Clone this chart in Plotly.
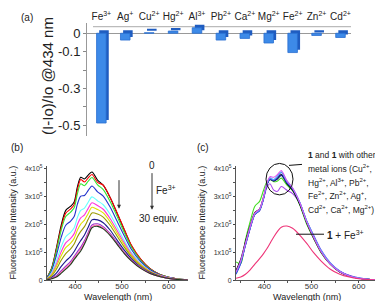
import plotly.graph_objects as go

W, H = 383, 301
FONT = "Liberation Sans, Arial, sans-serif"

def px(x):
    return x / W

def py(y):
    return 1 - y / H

# ---------------- Panel (a) data ----------------
ions = ["Fe<sup>3+</sup>", "Ag<sup>+</sup>", "Cu<sup>2+</sup>", "Hg<sup>2+</sup>", "Al<sup>3+</sup>",
        "Pb<sup>2+</sup>", "Ca<sup>2+</sup>", "Mg<sup>2+</sup>", "Fe<sup>2+</sup>", "Zn<sup>2+</sup>",
        "Cd<sup>2+</sup>"]
ratio = [-0.488, -0.037, 0.003, 0.012, 0.03, -0.037, -0.028, -0.053, -0.105, -0.012, -0.023]

# ---------------- Panels (b), (c) data (x1e5) ----------------
wl = [340, 350, 360, 370, 380, 390, 398, 405, 412, 420, 428, 436, 448, 460, 475, 490, 505, 520,
      540, 560, 580, 600, 620, 640]

titr_0 = [0.10, 0.45, 1.15, 1.95, 2.50, 2.64, 2.80, 3.35, 3.68, 3.62, 3.76, 3.87, 3.58, 3.40, 2.95, 2.38, 1.80, 1.25, 0.75, 0.42, 0.22, 0.11, 0.05, 0.02]
titr_1 = [0.10, 0.43, 1.10, 1.87, 2.40, 2.54, 2.71, 3.24, 3.60, 3.51, 3.66, 3.78, 3.50, 3.40, 2.95, 2.40, 1.82, 1.26, 0.76, 0.42, 0.22, 0.11, 0.05, 0.02]
titr_2 = [0.09, 0.41, 1.04, 1.77, 2.28, 2.43, 2.59, 3.10, 3.45, 3.38, 3.54, 3.67, 3.41, 3.24, 2.81, 2.27, 1.71, 1.19, 0.72, 0.40, 0.21, 0.11, 0.05, 0.02]
titr_3 = [0.08, 0.35, 0.89, 1.52, 1.97, 2.11, 2.28, 2.73, 3.01, 3.03, 3.21, 3.37, 3.16, 3.01, 2.61, 2.10, 1.59, 1.11, 0.67, 0.38, 0.20, 0.10, 0.05, 0.02]
titr_4 = [0.06, 0.28, 0.69, 1.19, 1.56, 1.71, 1.88, 2.25, 2.50, 2.58, 2.79, 2.98, 2.84, 2.70, 2.35, 1.89, 1.42, 1.00, 0.61, 0.34, 0.18, 0.09, 0.04, 0.02]
titr_5 = [0.06, 0.23, 0.58, 1.01, 1.34, 1.49, 1.67, 2.00, 2.23, 2.34, 2.57, 2.77, 2.67, 2.54, 2.20, 1.77, 1.34, 0.95, 0.57, 0.33, 0.18, 0.09, 0.04, 0.02]
titr_6 = [0.05, 0.20, 0.50, 0.87, 1.17, 1.32, 1.50, 1.80, 2.01, 2.15, 2.39, 2.61, 2.53, 2.41, 2.09, 1.68, 1.27, 0.90, 0.55, 0.31, 0.17, 0.08, 0.04, 0.02]
titr_7 = [0.04, 0.16, 0.40, 0.71, 0.96, 1.12, 1.30, 1.56, 1.75, 1.92, 2.18, 2.41, 2.37, 2.26, 1.96, 1.57, 1.19, 0.85, 0.52, 0.30, 0.16, 0.08, 0.04, 0.01]
titr_8 = [0.03, 0.11, 0.26, 0.49, 0.69, 0.85, 1.03, 1.24, 1.42, 1.62, 1.90, 2.16, 2.16, 2.06, 1.79, 1.43, 1.08, 0.78, 0.47, 0.27, 0.15, 0.07, 0.03, 0.01]
titr_9 = [0.02, 0.08, 0.17, 0.34, 0.51, 0.67, 0.86, 1.03, 1.19, 1.42, 1.71, 1.98, 2.02, 1.92, 1.67, 1.34, 1.00, 0.73, 0.45, 0.26, 0.14, 0.07, 0.03, 0.01]
titr_10 = [0.02, 0.07, 0.14, 0.29, 0.45, 0.61, 0.80, 0.95, 1.11, 1.35, 1.65, 1.92, 1.97, 1.87, 1.63, 1.30, 0.98, 0.71, 0.44, 0.25, 0.14, 0.07, 0.03, 0.01]
titr_11 = [0.02, 0.06, 0.12, 0.25, 0.40, 0.56, 0.75, 0.90, 1.05, 1.30, 1.60, 1.88, 1.93, 1.84, 1.60, 1.28, 0.96, 0.70, 0.43, 0.25, 0.14, 0.07, 0.03, 0.01]
titration = [titr_0, titr_1, titr_2, titr_3, titr_4, titr_5, titr_6, titr_7, titr_8, titr_9, titr_10, titr_11]
titr_colors = ["#000000", "#ff0000", "#33e633", "#2233cc", "#66ffff", "#ff33dd", "#e0e000",
               "#999900", "#1a1a8c", "#9933cc", "#ff66aa", "#1f3d1f"]

sel_black = [0.35, 0.75, 1.38, 1.95, 2.42, 2.55, 2.95, 3.40, 3.62, 3.55, 3.65, 3.78, 3.45, 3.22, 2.72, 2.05, 1.50, 1.02, 0.58, 0.30, 0.16, 0.08, 0.04, 0.02]
sel_green = [0.66, 0.60, 1.45, 2.10, 2.65, 2.82, 3.20, 3.50, 3.60, 3.52, 3.55, 3.65, 3.40, 3.20, 2.70, 2.00, 1.48, 1.00, 0.57, 0.30, 0.16, 0.08, 0.04, 0.02]
sel_blue = [0.22, 0.60, 1.25, 1.85, 2.35, 2.50, 2.90, 3.38, 3.62, 3.58, 3.70, 3.85, 3.50, 3.28, 2.78, 2.10, 1.55, 1.06, 0.60, 0.32, 0.17, 0.08, 0.04, 0.02]
sel_cyan = [0.28, 0.68, 1.30, 1.90, 2.38, 2.52, 2.92, 3.42, 3.66, 3.60, 3.72, 3.88, 3.55, 3.30, 2.80, 2.12, 1.58, 1.08, 0.62, 0.33, 0.17, 0.09, 0.04, 0.02]
sel_magenta = [0.30, 0.70, 1.32, 1.92, 2.40, 2.55, 2.95, 3.45, 3.70, 3.68, 3.78, 3.92, 3.55, 3.30, 2.78, 2.08, 1.52, 1.03, 0.58, 0.31, 0.16, 0.08, 0.04, 0.02]
sel_violet = [0.25, 0.62, 1.25, 1.85, 2.35, 2.50, 2.88, 3.30, 3.45, 3.22, 3.18, 3.35, 3.22, 3.10, 2.75, 2.12, 1.60, 1.10, 0.63, 0.34, 0.18, 0.09, 0.04, 0.02]
sel_navy = [0.25, 0.65, 1.28, 1.88, 2.36, 2.50, 2.90, 3.38, 3.60, 3.55, 3.62, 3.75, 3.48, 3.25, 2.78, 2.10, 1.56, 1.06, 0.60, 0.32, 0.17, 0.08, 0.04, 0.02]
sel_fe3 = [0.08, 0.12, 0.22, 0.38, 0.58, 0.78, 0.95, 1.12, 1.32, 1.55, 1.75, 1.90, 1.94, 1.86, 1.62, 1.32, 0.98, 0.70, 0.40, 0.22, 0.12, 0.06, 0.03, 0.01]
selectivity = [sel_violet, sel_green, sel_black, sel_navy, sel_blue, sel_cyan, sel_magenta, sel_fe3]
sel_colors = ["#aa44ee", "#44dd22", "#000000", "#1a1a8c", "#3355dd", "#55aaff", "#dd55ee", "#ee3377"]

ytick_vals = [0, 1e5, 2e5, 3e5, 4e5]
ytick_text = ["0", "1x10<sup>5</sup>", "2x10<sup>5</sup>", "3x10<sup>5</sup>", "4x10<sup>5</sup>"]
xtick_vals = [400, 500, 600]

fig = go.Figure()

# (a) bars with a simple depth effect: darker back face, then front face
fig.add_trace(go.Bar(x=ions, y=ratio, base=0.016, width=0.4, offset=-0.09, xaxis="x", yaxis="y",
                     marker=dict(color="#1f5cc0", line=dict(width=0)),
                     showlegend=False, hoverinfo="skip"))
fig.add_trace(go.Bar(x=ions, y=ratio, width=0.4, offset=-0.2, xaxis="x", yaxis="y",
                     marker=dict(color="#3d8ae8", line=dict(color="#2a6fd0", width=0.8)),
                     showlegend=False))

for ys, c in zip(titration, titr_colors):
    fig.add_trace(go.Scatter(x=wl, y=[v * 1e5 for v in ys], mode="lines", xaxis="x2", yaxis="y2",
                             line=dict(color=c, width=1.1, shape="spline", smoothing=0.8),
                             showlegend=False))

for ys, c in zip(selectivity, sel_colors):
    fig.add_trace(go.Scatter(x=wl, y=[v * 1e5 for v in ys], mode="lines", xaxis="x3", yaxis="y3",
                             line=dict(color=c, width=1.1, shape="spline", smoothing=0.8),
                             showlegend=False))

spec_x = dict(range=[340, 641], tickvals=xtick_vals, ticks="outside", ticklen=2,
              ticklabelstandoff=-4,
              tickfont=dict(size=8, color="#333"), showline=True, linecolor="#555", linewidth=1,
              showgrid=False, zeroline=False,
              minor=dict(tickvals=[350, 450, 550], ticks="outside", ticklen=2, tickcolor="#555"))
spec_y = dict(range=[0, 4.07e5], tickvals=ytick_vals, ticktext=ytick_text, ticks="outside", ticklen=2,
              tickfont=dict(size=7, color="#333"), showline=True, linecolor="#555", linewidth=1,
              showgrid=False, zeroline=False,
              minor=dict(tickvals=[0.5e5, 1.5e5, 2.5e5, 3.5e5], ticks="outside", ticklen=2, tickcolor="#555"))

fig.update_layout(
    width=W, height=H, margin=dict(l=0, r=0, t=0, b=0),
    paper_bgcolor="white", plot_bgcolor="white",
    font=dict(family=FONT, color="#222"),
    barmode="overlay",
    xaxis=dict(domain=[px(79), px(343)], range=[-0.6, 10.44], side="top", anchor="y",
               showline=False, ticks="", showgrid=False, zeroline=False,
               tickfont=dict(size=10, color="#222")),
    yaxis=dict(domain=[py(128), py(13)], range=[-0.558, 0.057], anchor="x",
               tickvals=[0, -0.1, -0.3, -0.5], ticktext=["0", "-0.1", "-0.3", "-0.5"],
               ticks="outside", ticklen=3, tickcolor="#888", showline=True, linecolor="#999",
               showgrid=False, zeroline=True, zerolinecolor="#999", zerolinewidth=1,
               tickfont=dict(size=13, color="#222"),
               minor=dict(tickvals=[-0.2, -0.4], ticks="outside", ticklen=3, tickcolor="#888")),
    xaxis2=dict(domain=[px(39), px(180)], anchor="y2", **spec_x),
    yaxis2=dict(domain=[py(275), py(159)], anchor="x2", **spec_y),
    xaxis3=dict(domain=[px(228), px(370)], anchor="y3", **spec_x),
    yaxis3=dict(domain=[py(275), py(159)], anchor="x3", **spec_y),
)

# back line of (a)
fig.add_shape(type="line", xref="paper", yref="paper", x0=px(85), x1=px(343), y0=py(17), y1=py(17),
              line=dict(color="#aaa", width=1), layer="below")

ann = []
def text(x, y, s, size, xanchor="center", angle=0, color="#222"):
    ann.append(dict(x=px(x), y=py(y), xref="paper", yref="paper", text=s, showarrow=False,
                    xanchor=xanchor, yanchor="middle", textangle=angle, borderpad=0,
                    font=dict(size=size, color=color, family=FONT)))

text(19, 8, "(a)", 10)
text(40, 67, "(I-Io)/Io @434 nm", 15, angle=-90)
text(9, 140, "(b)", 10)
text(195, 140, "(c)", 10)
text(5, 216, "Fluorescence Intensity (a.u.)", 9, angle=-90)
text(194, 216, "Fluorescence Intensity (a.u.)", 9, angle=-90)
text(110, 292, "Wavelength (nm)", 9)
text(299, 292, "Wavelength (nm)", 9)

# (b) annotations
text(144, 158, "0", 10)
text(147, 183, "Fe<sup>3+</sup>", 10, xanchor="left")
text(151, 212, "30 equiv.", 10)
for (xx, y_tip, y_tail) in [(111, 202, 172), (144, 203, 165)]:
    ann.append(dict(x=px(xx), y=py(y_tip), xref="paper", yref="paper", ax=0, ay=-(y_tip - y_tail),
                    text="", showarrow=True, arrowhead=2, arrowsize=0.8, arrowwidth=1,
                    arrowcolor="#333"))

# (c) annotations
text(299, 147, "<b>1</b> and <b>1</b> with other", 8.5, xanchor="left")
text(299, 161.5, "metal ions (Cu<sup>2+</sup>,", 8.5, xanchor="left")
text(299, 175.5, "Hg<sup>2+</sup>, Al<sup>3+</sup>, Pb<sup>2+</sup>,", 8.5, xanchor="left")
text(299, 189, "Fe<sup>2+</sup>, Zn<sup>2+</sup>, Ag<sup>+</sup>,", 8.5, xanchor="left")
text(299, 203, "Cd<sup>2+</sup>, Ca<sup>2+</sup>, Mg<sup>2+</sup>)", 8.5, xanchor="left")
text(318, 229, "<b>1</b> + Fe<sup>3+</sup>", 10, xanchor="left")

fig.add_shape(type="circle", xref="paper", yref="paper", x0=px(258), x1=px(285), y0=py(188), y1=py(156),
              line=dict(color="#111", width=1))
fig.add_shape(type="line", xref="paper", yref="paper", x0=px(281), x1=px(294), y0=py(158), y1=py(157),
              line=dict(color="#111", width=1))
fig.add_shape(type="line", xref="paper", yref="paper", x0=px(288), x1=px(316), y0=py(228), y1=py(228),
              line=dict(color="#111", width=1))

fig.update_layout(annotations=ann)
fig.write_html("out.html")
